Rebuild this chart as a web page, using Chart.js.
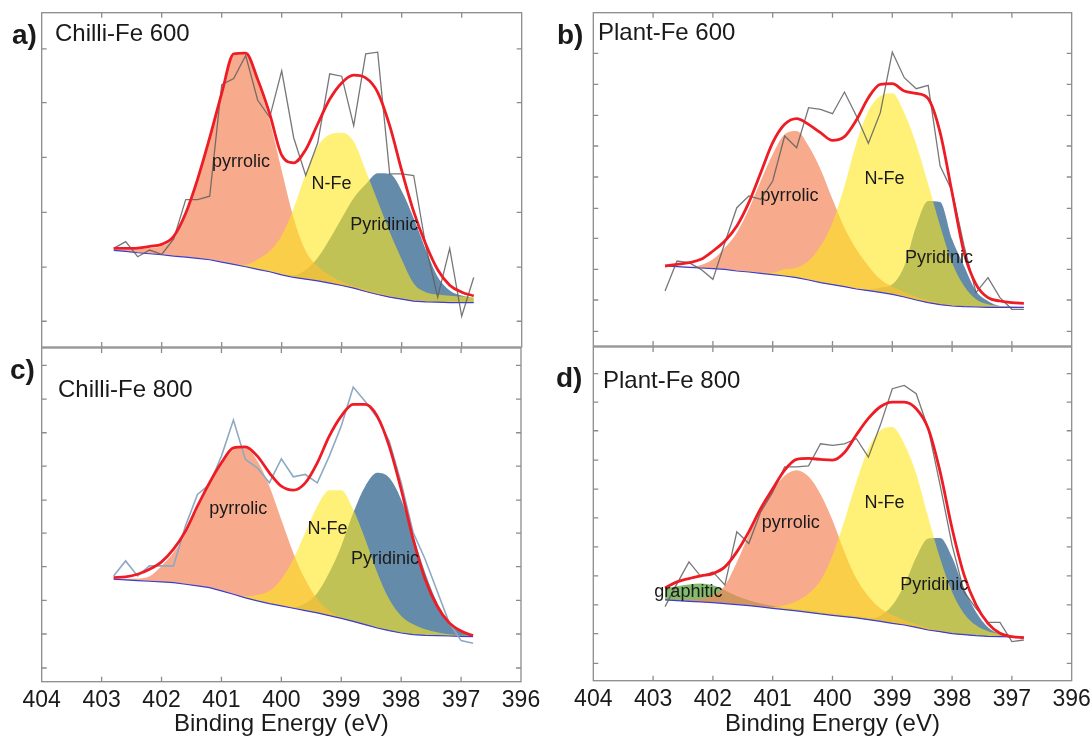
<!DOCTYPE html>
<html lang="en">
<head>
<meta charset="UTF-8">
<title>N 1s XPS – Chilli-Fe / Plant-Fe</title>
<script src="https://cdn.jsdelivr.net/npm/chart.js"></script>
<style>
    body { margin: 0; background: #fff; }
    #wrap { position: relative; width: 1091px; height: 737px; overflow: hidden; font-family: "Liberation Sans", Arial, sans-serif; color: #1a1a1a; }
    canvas { position: absolute; }
    .tag { position: absolute; font-weight: bold; font-size: 28px; line-height: 28px; white-space: nowrap; }
    .name { position: absolute; font-size: 24px; line-height: 24px; white-space: nowrap; }
</style>
</head>
<body>
<div id="wrap">
    <canvas id="pa" width="545" height="350" style="left:0;top:0;width:545px;height:350px"></canvas>
    <canvas id="pb" width="546" height="350" style="left:545px;top:0;width:546px;height:350px"></canvas>
    <canvas id="pc" width="545" height="397" style="left:0;top:340px;width:545px;height:397px"></canvas>
    <canvas id="pd" width="546" height="397" style="left:545px;top:340px;width:546px;height:397px"></canvas>

    <div class="tag" style="left:12px;top:21px">a)</div>
    <div class="name" style="left:55px;top:21px">Chilli-Fe 600</div>
    <div class="tag" style="left:557px;top:21px">b)</div>
    <div class="name" style="left:598px;top:20px">Plant-Fe 600</div>
    <div class="tag" style="left:10px;top:356px">c)</div>
    <div class="name" style="left:58px;top:377px">Chilli-Fe 800</div>
    <div class="tag" style="left:556px;top:364px">d)</div>
    <div class="name" style="left:603px;top:368px">Plant-Fe 800</div>
</div>

<script>
// binding energy grid (eV), shared by every trace
const energy = [402.8, 402.6, 402.4, 402.2, 402.0, 401.8, 401.6, 401.4, 401.2, 401.0,
                400.8, 400.6, 400.4, 400.2, 400.0, 399.8, 399.6, 399.4, 399.2, 399.0,
                398.8, 398.6, 398.4, 398.2, 398.0, 397.8, 397.6, 397.4, 397.2, 397.0, 396.8];
const xTickValues = [404, 403, 402, 401, 400, 399, 398, 397, 396];

// a) Chilli-Fe 600 (intensity, arb. units)
const aRaw = [29.5, 31.5, 27.0, 29.0, 27.7, 32.3, 44.1, 44.1, 45.1, 78.5, 80.3, 87.2, 73.8, 68.7, 82.6, 62.6, 51.3, 61.0, 81.7, 81.0, 66.2, 87.7, 88.2, 51.8, 51.8, 51.3, 30.3, 14.9, 29.5, 9.2, 20.8];
const aFit = [29.5, 29.5, 29.6, 30.1, 30.7, 33.1, 40.0, 50.3, 62.6, 75.9, 87.7, 87.9, 80.0, 69.7, 57.4, 55.1, 59.0, 66.7, 74.1, 79.0, 81.3, 80.5, 76.2, 66.2, 52.8, 40.5, 30.8, 23.1, 18.5, 16.4, 15.3];
const aBase = [28.9, 28.6, 28.2, 27.9, 27.6, 27.2, 26.9, 26.5, 26.1, 25.4, 24.7, 24.0, 23.2, 22.5, 21.6, 20.8, 20.3, 19.8, 19.1, 18.4, 17.6, 16.6, 15.7, 14.9, 14.3, 13.7, 13.5, 13.4, 13.3, 13.3, 13.3];
const aPyrrolic = [29.0, 29.0, 29.2, 29.6, 30.2, 32.5, 39.5, 50.0, 62.3, 75.5, 87.2, 87.5, 79.0, 67.7, 52.8, 38.5, 28.7, 24.1, 21.5, 19.5, 18.2, 17.2, 16.2, 15.3, 14.6, 14.1, 13.8, 13.6, 13.6, 13.6, 13.6];
const aNFe = [29.0, 28.7, 28.3, 28.0, 27.7, 27.3, 27.0, 26.6, 26.2, 25.6, 25.0, 24.6, 26.2, 28.7, 33.3, 41.5, 51.8, 60.0, 63.6, 64.1, 61.5, 52.8, 43.6, 34.4, 26.2, 19.0, 16.4, 15.7, 15.3, 15.1, 14.9];
const aPyridinic = [28.9, 28.6, 28.2, 27.9, 27.6, 27.2, 26.9, 26.5, 26.1, 25.4, 24.7, 24.0, 23.2, 22.5, 21.6, 21.5, 23.1, 26.7, 32.3, 38.5, 44.6, 48.7, 52.0, 51.8, 46.7, 38.5, 29.2, 21.0, 16.9, 15.4, 14.7];
const aYTicks = [7.7, 23.9, 40.3, 56.7, 73.1, 89.2];
const aLabels = [['pyrrolic', 400.68, 55.4], ['N-Fe', 399.17, 48.7], ['Pyridinic', 398.29, 36.4]];

// b) Plant-Fe 600
const bRaw = [16.5, 25.5, 25.0, 23.0, 20.0, 31.0, 41.5, 45.0, 44.0, 49.5, 63.0, 59.5, 71.5, 71.0, 69.7, 76.2, 69.0, 60.8, 70.0, 88.2, 80.5, 77.2, 78.2, 54.0, 46.5, 30.0, 16.0, 20.5, 14.5, 11.0, 11.0];
const bFit = [24.0, 24.5, 25.0, 26.0, 28.5, 31.5, 36.0, 43.0, 52.0, 61.0, 66.5, 68.2, 66.5, 64.0, 61.7, 62.8, 67.8, 74.5, 78.5, 78.7, 76.5, 75.8, 74.2, 64.0, 46.0, 28.0, 18.5, 14.5, 13.5, 13.0, 12.8];
const bBase = [24.0, 23.8, 23.6, 23.4, 23.2, 23.0, 22.5, 22.2, 21.8, 21.4, 21.0, 20.5, 19.8, 19.0, 18.4, 17.8, 17.1, 16.6, 16.1, 15.5, 14.7, 13.8, 13.0, 12.4, 12.0, 11.8, 11.7, 11.6, 11.6, 11.6, 11.6];
const bPyrrolic = [24.0, 23.9, 23.8, 24.3, 26.0, 29.5, 34.0, 41.0, 49.5, 57.5, 63.5, 64.5, 60.0, 53.0, 44.0, 35.5, 29.0, 24.0, 20.0, 17.8, 16.2, 14.8, 13.7, 12.8, 12.3, 12.0, 11.8, 11.8, 11.8, 11.8, 11.8];
const bNFe = [24.1, 23.9, 23.7, 23.5, 23.3, 23.1, 22.7, 22.4, 22.0, 22.0, 23.0, 23.5, 25.5, 30.0, 37.0, 48.0, 61.0, 70.5, 75.0, 75.8, 70.0, 60.5, 48.5, 36.0, 25.0, 18.0, 14.0, 12.5, 12.0, 11.8, 11.7];
const bPyridinic = [24.0, 23.8, 23.6, 23.4, 23.2, 23.0, 22.5, 22.2, 21.8, 21.4, 21.0, 20.5, 19.8, 19.0, 18.4, 17.8, 17.1, 17.0, 17.5, 18.5, 24.0, 36.0, 43.5, 43.2, 32.0, 24.0, 16.5, 13.5, 12.0, 11.8, 11.7];
const bYTicks = [4.4, 13.8, 23.0, 32.3, 41.3, 50.7, 60.0, 69.2, 78.5, 87.8];
const bLabels = [['pyrrolic', 400.72, 45.0], ['N-Fe', 399.13, 50.0], ['Pyridinic', 398.22, 26.5]];

// c) Chilli-Fe 800
const cRaw = [31.7, 36.2, 31.7, 34.7, 34.7, 34.7, 46.7, 56.1, 59.1, 67.6, 78.4, 66.6, 64.1, 59.6, 66.8, 61.4, 62.1, 59.6, 67.6, 76.6, 88.3, 84.0, 79.1, 72.1, 59.6, 44.7, 36.7, 27.2, 17.7, 12.3, 11.5];
const cFit = [31.2, 31.4, 32.2, 33.7, 35.9, 39.7, 45.1, 52.6, 59.6, 65.6, 70.1, 70.4, 67.6, 62.6, 58.6, 57.4, 59.6, 65.6, 73.6, 79.6, 83.1, 83.1, 79.6, 70.6, 57.6, 42.7, 30.7, 22.7, 17.7, 15.2, 13.8];
const cBase = [30.7, 30.5, 30.3, 30.1, 29.9, 29.7, 29.2, 28.7, 28.2, 27.2, 26.2, 25.1, 24.2, 23.4, 22.7, 22.0, 21.3, 20.6, 19.8, 19.0, 18.1, 17.1, 16.1, 15.3, 14.6, 14.1, 13.9, 13.8, 13.7, 13.6, 13.5];
const cPyrrolic = [30.8, 30.8, 30.9, 31.6, 34.7, 38.7, 44.1, 51.6, 59.1, 65.1, 69.6, 70.4, 66.1, 58.6, 48.5, 38.6, 30.6, 24.7, 21.2, 19.2, 17.9, 16.9, 16.0, 15.2, 14.6, 14.1, 13.9, 13.8, 13.7, 13.6, 13.5];
const cNFe = [30.8, 30.6, 30.4, 30.2, 30.0, 29.8, 29.3, 28.8, 28.3, 27.3, 26.3, 25.6, 26.0, 27.2, 30.7, 36.7, 44.7, 52.6, 57.4, 57.4, 51.6, 42.7, 32.7, 24.7, 19.7, 17.2, 15.7, 14.8, 14.2, 13.9, 13.7];
const cPyridinic = [30.7, 30.5, 30.3, 30.1, 29.9, 29.7, 29.2, 28.7, 28.2, 27.2, 26.2, 25.1, 24.2, 23.4, 22.7, 22.3, 23.5, 26.6, 32.7, 40.7, 50.6, 58.6, 62.6, 61.1, 54.6, 43.7, 32.7, 23.7, 17.7, 15.2, 13.8];
const cYTicks = [4.1, 14.3, 24.4, 34.5, 44.5, 54.4, 64.6, 74.6, 84.7, 94.8];
const cLabels = [['pyrrolic', 400.72, 51.6], ['N-Fe', 399.23, 45.7], ['Pyridinic', 398.27, 36.7]];

// d) Plant-Fe 800
const dRaw = [22.2, 29.1, 35.6, 31.2, 32.6, 28.7, 44.6, 41.1, 50.6, 56.5, 64.1, 64.1, 64.4, 71.0, 70.5, 71.0, 72.5, 67.0, 76.6, 87.5, 88.5, 86.0, 75.6, 58.6, 40.6, 26.6, 21.7, 17.5, 17.5, 11.7, 12.2];
const dFit = [27.8, 29.6, 30.6, 31.4, 32.1, 34.1, 38.6, 44.6, 51.6, 57.5, 63.1, 66.3, 66.6, 66.3, 66.1, 68.4, 73.7, 78.6, 82.1, 83.5, 83.5, 81.5, 75.6, 62.6, 45.6, 31.7, 22.7, 17.2, 14.2, 13.2, 12.9];
const dBase = [24.2, 24.0, 23.8, 23.6, 23.4, 23.1, 22.8, 22.5, 22.1, 21.7, 21.3, 20.9, 20.5, 20.0, 19.6, 19.2, 18.8, 18.3, 17.8, 17.2, 16.7, 16.0, 15.2, 14.7, 14.1, 13.8, 13.5, 13.3, 13.2, 13.1, 13.0];
const dGraphitic = [27.7, 28.3, 28.8, 29.1, 28.6, 27.1, 25.4, 24.1, 23.1, 22.4, 21.9, 21.5, 21.1, 20.6, 20.2, 19.8, 19.4, 18.9, 18.4, 17.8, 17.3, 16.6, 15.8, 15.2, 14.6, 14.2, 13.8, 13.5, 13.3, 13.2, 13.1];
const dPyrrolic = [24.4, 24.3, 24.3, 24.6, 25.5, 28.5, 35.5, 43.6, 50.6, 56.9, 61.4, 63.1, 61.2, 55.9, 48.1, 38.6, 30.6, 25.3, 21.7, 19.7, 18.1, 16.9, 15.8, 15.1, 14.4, 14.0, 13.7, 13.5, 13.4, 13.3, 13.2];
const dNFe = [24.3, 24.1, 23.9, 23.7, 23.5, 23.2, 22.9, 22.6, 22.2, 22.0, 22.6, 23.8, 26.1, 30.0, 37.5, 48.0, 59.6, 69.6, 75.0, 76.0, 71.0, 62.0, 49.0, 36.6, 26.6, 20.1, 16.6, 14.8, 14.0, 13.5, 13.3];
const dPyridinic = [24.2, 24.0, 23.8, 23.6, 23.4, 23.1, 22.8, 22.5, 22.1, 21.7, 21.3, 20.9, 20.5, 20.0, 19.6, 19.2, 18.8, 18.6, 19.5, 22.6, 28.6, 37.0, 42.6, 42.8, 37.0, 27.6, 20.6, 16.0, 14.0, 13.4, 13.1];
const dYTicks = [5.2, 14.1, 22.7, 31.4, 40.1, 48.8, 57.4, 66.1, 74.9, 83.5, 92.0];
const dLabels = [['graphitic', 402.41, 26.6], ['pyrrolic', 400.70, 47.1], ['N-Fe', 399.13, 53.1], ['Pyridinic', 398.30, 28.6]];

// component colours and stacking (lower order = drawn later)
const compStyle = {
    'N-Fe':      { color: 'rgba(255,232,30,0.6)',  order: 3 },
    'pyrrolic':  { color: 'rgba(244,134,91,0.7)',  order: 4 },
    'Pyridinic': { color: 'rgba(61,111,149,0.8)',  order: 5 },
    'graphitic': { color: 'rgba(80,160,50,0.7)',   order: 6 }
};

const FONT = '"Liberation Sans", Arial, sans-serif';

function pts(vals) {
    return energy.map((e, i) => ({ x: e, y: vals[i] }));
}

// box, inward ticks and peak names
const framePlugin = {
    id: 'frame',
    afterDatasetsDraw(chart, args, opts) {
        const { ctx, chartArea: ca, scales: { x, y } } = chart;
        ctx.save();
        ctx.strokeStyle = '#8c8c8c';
        ctx.lineWidth = 1.3;
        ctx.strokeRect(ca.left, ca.top, ca.right - ca.left, ca.bottom - ca.top);
        ctx.beginPath();
        xTickValues.forEach(v => {
            if (v <= 396 || v >= 404) return;
            const px = x.getPixelForValue(v);
            ctx.moveTo(px, ca.top); ctx.lineTo(px, ca.top + 5);
            ctx.moveTo(px, ca.bottom); ctx.lineTo(px, ca.bottom - 5);
        });
        opts.yTicks.forEach(v => {
            const py = y.getPixelForValue(v);
            ctx.moveTo(ca.left, py); ctx.lineTo(ca.left + 5, py);
            ctx.moveTo(ca.right, py); ctx.lineTo(ca.right - 5, py);
        });
        ctx.stroke();

        ctx.fillStyle = '#1a1a1a';
        ctx.font = '18px ' + FONT;
        ctx.textAlign = 'center';
        ctx.textBaseline = 'middle';
        opts.labels.forEach(l => ctx.fillText(l[0], x.getPixelForValue(l[1]), y.getPixelForValue(l[2])));
        ctx.restore();
    }
};

function makePanel(canvasId, p) {
    const datasets = [
        { label: 'Background', data: pts(p.base), borderColor: '#3c3cd6', borderWidth: 1.2, fill: false, order: 2 },
        { label: 'Raw', data: pts(p.raw), borderColor: p.rawColor, borderWidth: p.rawWidth, fill: false, order: 1 },
        { label: 'Envelope', data: pts(p.fit), borderColor: '#ee1c24', borderWidth: 2.8, fill: false,
          cubicInterpolationMode: 'monotone', order: 0 }
    ];
    p.comps.forEach(c => {
        const st = compStyle[c[0]];
        datasets.push({
            label: c[0], data: pts(c[1]),
            borderColor: 'rgba(0,0,0,0)', borderWidth: 1,
            backgroundColor: st.color, fill: 0,
            cubicInterpolationMode: 'monotone', order: st.order
        });
    });

    new Chart(document.getElementById(canvasId), {
        type: 'line',
        data: { datasets },
        options: {
            responsive: false,
            animation: false,
            events: [],
            layout: { padding: p.padding },
            elements: { point: { radius: 0 }, line: { tension: 0 } },
            scales: {
                x: {
                    type: 'linear', reverse: true, min: 396, max: 404,
                    display: p.showAxis,
                    grid: { display: false, drawTicks: false },
                    border: { display: false },
                    ticks: { stepSize: 1, padding: 5, maxRotation: 0, autoSkip: false, color: '#1a1a1a',
                             font: { size: 23, family: FONT } },
                    title: { display: p.showAxis, text: 'Binding Energy (eV)', color: '#1a1a1a',
                             font: { size: 24, family: FONT }, padding: { top: 0, bottom: -2 } },
                    afterFit(s) {
                        s.paddingLeft = 0;
                        s.paddingRight = 0;
                        if (p.showAxis) s.height = p.axisHeight;
                    }
                },
                y: { display: false, min: 0, max: 100 }
            },
            plugins: {
                legend: { display: false },
                tooltip: { enabled: false },
                frame: { yTicks: p.yTicks, labels: p.labels }
            }
        },
        plugins: [framePlugin]
    });
}

makePanel('pa', {
    raw: aRaw, fit: aFit, base: aBase, rawColor: 'rgba(95,95,95,0.85)', rawWidth: 1.3,
    comps: [['pyrrolic', aPyrrolic], ['N-Fe', aNFe], ['Pyridinic', aPyridinic]],
    yTicks: aYTicks, labels: aLabels, showAxis: false,
    padding: { left: 41.7, top: 12.7, right: 23.3, bottom: 3 }
});
makePanel('pb', {
    raw: bRaw, fit: bFit, base: bBase, rawColor: 'rgba(95,95,95,0.85)', rawWidth: 1.3,
    comps: [['pyrrolic', bPyrrolic], ['N-Fe', bNFe], ['Pyridinic', bPyridinic]],
    yTicks: bYTicks, labels: bLabels, showAxis: false,
    padding: { left: 48.3, top: 12.7, right: 19.3, bottom: 4 }
});
makePanel('pc', {
    raw: cRaw, fit: cFit, base: cBase, rawColor: '#8fa9c3', rawWidth: 1.6,
    comps: [['pyrrolic', cPyrrolic], ['N-Fe', cNFe], ['Pyridinic', cPyridinic]],
    yTicks: cYTicks, labels: cLabels, showAxis: true, axisHeight: 55.3,
    padding: { left: 41.7, top: 8, right: 24, bottom: 0 }
});
makePanel('pd', {
    raw: dRaw, fit: dFit, base: dBase, rawColor: 'rgba(95,95,95,0.85)', rawWidth: 1.3,
    comps: [['graphitic', dGraphitic], ['pyrrolic', dPyrrolic], ['N-Fe', dNFe], ['Pyridinic', dPyridinic]],
    yTicks: dYTicks, labels: dLabels, showAxis: true, axisHeight: 56.3,
    padding: { left: 48.3, top: 7, right: 19.3, bottom: 0 }
});
</script>
</body>
</html>
